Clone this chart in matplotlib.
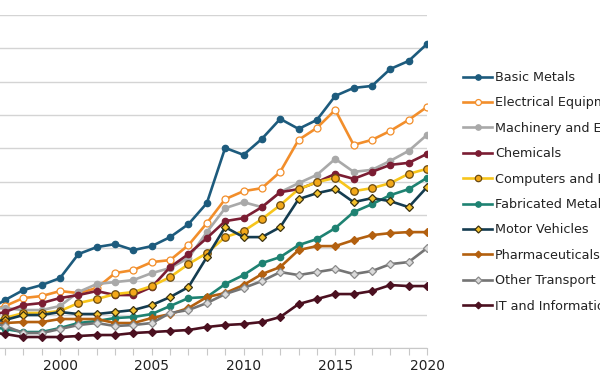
import matplotlib
matplotlib.use("Agg")
import matplotlib.pyplot as plt

years = list(range(1996, 2021))

basic_metals = [11.1, 14.4, 17.4, 18.9, 21.0, 28.2, 30.3, 31.2, 29.4, 30.6, 33.3, 37.2, 43.5,
                60.1, 58.0, 62.8, 68.8, 65.8, 68.5, 75.7, 78.1, 78.7, 83.8, 86.2, 91.3]
electrical = [10.8, 12.6, 15.0, 15.6, 17.1, 16.5, 18.0, 22.5, 23.4, 25.8, 26.4, 30.9, 37.5,
              44.7, 47.1, 48.0, 52.9, 62.5, 66.1, 71.5, 61.0, 62.5, 65.2, 68.5, 72.4]
machinery = [11.7, 12.0, 11.4, 11.4, 12.6, 16.8, 19.2, 19.8, 20.4, 22.5, 24.0, 27.0, 34.8,
             42.0, 43.8, 42.3, 46.8, 49.5, 52.0, 56.8, 52.9, 53.5, 56.2, 59.2, 64.0]
chemicals = [9.6, 10.8, 12.9, 13.5, 15.0, 15.9, 17.1, 15.9, 15.9, 18.3, 24.3, 28.2, 33.0,
             38.1, 39.0, 42.3, 46.8, 47.7, 49.8, 52.3, 50.8, 52.9, 55.0, 55.6, 58.3]
computers = [7.8, 9.0, 10.5, 10.5, 11.1, 13.5, 14.7, 16.2, 16.8, 18.6, 21.3, 25.2, 28.5,
             33.3, 35.1, 38.7, 42.9, 47.7, 49.8, 51.1, 47.1, 48.0, 49.5, 52.3, 53.8]
fabricated = [6.6, 5.7, 4.8, 4.8, 6.0, 7.5, 8.1, 9.0, 9.3, 10.2, 12.6, 15.0, 15.3,
              19.2, 21.9, 25.5, 27.3, 30.9, 32.7, 36.0, 40.8, 43.2, 45.9, 47.7, 51.1]
motor = [7.8, 8.4, 9.9, 9.9, 10.8, 10.2, 10.2, 10.8, 11.4, 12.9, 15.3, 18.3, 27.3,
         36.3, 33.3, 33.3, 36.3, 44.7, 46.5, 47.7, 43.8, 45.0, 44.1, 42.3, 48.3]
pharma = [6.9, 7.5, 7.8, 7.8, 8.7, 8.7, 8.7, 7.5, 7.5, 9.0, 10.2, 12.0, 15.3,
          16.5, 18.9, 22.2, 24.3, 29.4, 30.6, 30.6, 32.4, 33.9, 34.5, 34.8, 34.8]
other_transport = [7.8, 6.6, 4.5, 4.5, 5.7, 6.9, 7.5, 6.6, 6.9, 7.5, 10.5, 11.4, 13.5,
                   16.2, 18.0, 20.1, 22.8, 21.9, 22.8, 23.7, 22.2, 23.1, 25.2, 25.8, 30.0]
it_services = [4.8, 4.2, 3.3, 3.3, 3.3, 3.6, 3.9, 3.9, 4.5, 4.8, 5.1, 5.4, 6.3,
               6.9, 7.2, 7.8, 9.3, 13.2, 14.7, 16.2, 16.2, 17.1, 18.9, 18.6, 18.6]

labels = ["Basic Metals", "Electrical Equipment", "Machinery and Equipment", "Chemicals",
          "Computers and Electronics", "Fabricated Metals", "Motor Vehicles",
          "Pharmaceuticals", "Other Transport", "IT and Information Services"]
series = [basic_metals, electrical, machinery, chemicals, computers, fabricated,
          motor, pharma, other_transport, it_services]

# (line colour, marker, marker face, marker edge, marker size)
styles = [
    ("#1d5b7d", "o", "#1d5b7d", "#1d5b7d", 4.6),
    ("#f28e2b", "o", "white", "#f28e2b", 5.0),
    ("#a9a9a9", "o", "#a9a9a9", "#a9a9a9", 4.6),
    ("#7b1d33", "o", "#7b1d33", "#7b1d33", 4.6),
    ("#f7c51c", "o", "#f3a81a", "#6b4a10", 5.4),
    ("#1e8272", "o", "#1e8272", "#1e8272", 4.6),
    ("#143c50", "D", "#f2c12e", "#3a3010", 4.2),
    ("#b3600f", "D", "#b3600f", "#b3600f", 4.0),
    ("#747474", "D", "#dadada", "#8a8a8a", 4.2),
    ("#4b1020", "D", "#4b1020", "#4b1020", 4.0),
]

plt.rcParams['font.family'] = ['DejaVu Sans']

fig = plt.figure(figsize=(6, 3.84), dpi=100)
ax = fig.add_axes([-31.7 / 600, 36 / 384, 458.7 / 600, 333 / 384])

for vals, lab, (col, mk, mfc, mec, ms) in zip(series, labels, styles):
    ax.plot(years, vals, color=col, lw=1.9, marker=mk, markersize=ms,
            markerfacecolor=mfc, markeredgecolor=mec, markeredgewidth=0.9,
            label=lab)

ax.set_xlim(1995, 2020)
ax.set_ylim(0, 100)
ax.set_yticks(range(0, 101, 10))
ax.yaxis.grid(True, color="#d4d4d4", lw=1)
ax.set_axisbelow(True)
ax.tick_params(axis="y", left=False, labelleft=False)

# ticks every year, labels only from 2000 on every five years
ax.set_xticks(range(1996, 2021))
ax.set_xticklabels([str(y) if y % 5 == 0 and y >= 2000 else "" for y in range(1996, 2021)])
ax.tick_params(axis="x", direction="out", length=5, color="#c8c8c8",
               labelsize=10, labelcolor="#222222", pad=3)

for side in ["top", "right", "left"]:
    ax.spines[side].set_visible(False)
ax.spines["bottom"].set_color("#c8c8c8")

handles, labs = ax.get_legend_handles_labels()
fig.legend(handles, labs, loc="upper left", bbox_to_anchor=(463 / 600, 1 - 71 / 384),
           frameon=False, fontsize=9.2, handlelength=2.3, handletextpad=0.2,
           labelspacing=0.97, borderpad=0, borderaxespad=0, labelcolor="#222222",
           markerscale=0.85)

fig.savefig("out.png", dpi=100)
